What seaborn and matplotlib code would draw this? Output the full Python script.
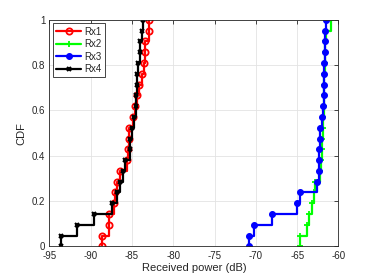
import numpy as np
import pandas as pd
import matplotlib
matplotlib.use("Agg")
import matplotlib.pyplot as plt
import seaborn as sns

# ==========================================
# DATOS (muestras de potencia recibida, dB)
# ==========================================

rx1 = [-88.6, -87.8, -87.8, -87.2, -87.0, -86.8, -86.4, -85.6, -85.5, -85.4,
       -85.3, -84.9, -84.6, -84.4, -84.1, -83.75, -83.6, -83.4, -83.4, -82.9,
       -82.9]
rx2 = [-64.6, -63.8, -63.6, -63.2, -63.0, -62.9, -62.2, -62.1, -62.0, -61.95,
       -61.9, -61.85, -61.8, -61.75, -61.7, -61.7, -61.65, -61.6, -61.6, -61.55,
       -60.85]
rx3 = [-70.8, -70.2, -68.0, -65.0, -64.6, -62.55, -62.4, -62.35, -62.3, -62.2,
       -62.2, -62.05, -61.9, -61.8, -61.75, -61.73, -61.7, -61.6, -61.6, -61.6,
       -61.57]
rx4 = [-93.6, -91.7, -89.6, -87.4, -86.8, -86.4, -86.1, -85.9, -85.25, -85.25,
       -84.95, -84.7, -84.55, -84.5, -84.45, -84.45, -84.3, -84.0, -84.0, -83.8,
       -83.7]

SERIES = ["Rx1", "Rx2", "Rx3", "Rx4"]
MUESTRAS = [rx1, rx2, rx3, rx4]

X_TICKS = [-95, -90, -85, -80, -75, -70, -65, -60]
Y_TICKS = [0, 0.2, 0.4, 0.6, 0.8, 1]
Y_LABELS = ["0", "0.2", "0.4", "0.6", "0.8", "1"]

# ==========================================
# ESTILO
# ==========================================

ESTILOS = {
    "Rx1": dict(color="#ff0000", marker="o", markerfacecolor="none",
                markersize=4.5, markeredgewidth=1.3),
    "Rx2": dict(color="#00ff00", marker="+", markersize=5,
                markeredgewidth=1.3),
    "Rx3": dict(color="#0000ff", marker="o", markersize=4.2,
                markeredgewidth=0.8),
    "Rx4": dict(color="#000000", marker="x", markersize=3.5,
                markeredgewidth=1.5),
}


def ecdf_puntos(muestras):
    x = np.sort(np.asarray(muestras))
    n = len(x)
    f = np.arange(1, n + 1) / n
    return np.r_[x[0], x], np.r_[0.0, f]


sns.set_style("white")
plt.rcParams["font.family"] = ["Liberation Sans", "DejaVu Sans"]

fig = plt.figure(figsize=(3.74, 2.8), dpi=100)
ax = fig.add_axes([0.132, 0.12, 0.773, 0.809])

for nombre, muestras in zip(SERIES, MUESTRAS):
    x, f = ecdf_puntos(muestras)
    datos = pd.DataFrame({"x": x, "f": f})
    estilo = dict(ESTILOS[nombre])
    estilo["markeredgecolor"] = estilo["color"]
    sns.lineplot(
        data=datos,
        x="x",
        y="f",
        sort=False,
        estimator=None,
        drawstyle="steps-post",
        linewidth=1.6,
        label=nombre,
        ax=ax,
        **estilo
    )

ax.set_xlim(-95, -60)
ax.set_ylim(0, 1)
ax.set_xticks(X_TICKS)
ax.set_xticklabels([str(t) for t in X_TICKS])
ax.set_yticks(Y_TICKS)
ax.set_yticklabels(Y_LABELS)

ax.grid(True, color="#e3e3e3", linewidth=0.6)
ax.set_axisbelow(True)

for lado in ax.spines.values():
    lado.set_color("#262626")
    lado.set_linewidth(0.6)

ax.tick_params(direction="in", length=3, width=0.6, top=True, right=True,
               labelsize=7, colors="#262626", pad=3)

ax.set_xlabel("Received power (dB)", fontsize=8, color="#262626", labelpad=2)
ax.set_ylabel("CDF", fontsize=8, color="#262626", labelpad=4)

leyenda = ax.legend(loc="upper left", fontsize=7, fancybox=False,
                    framealpha=1, edgecolor="#262626", handlelength=2.6,
                    borderpad=0.35, labelspacing=0.25, handletextpad=0.3,
                    borderaxespad=0.35)
leyenda.get_frame().set_linewidth(0.6)

fig.savefig("out.png", dpi=100)
plt.close(fig)
